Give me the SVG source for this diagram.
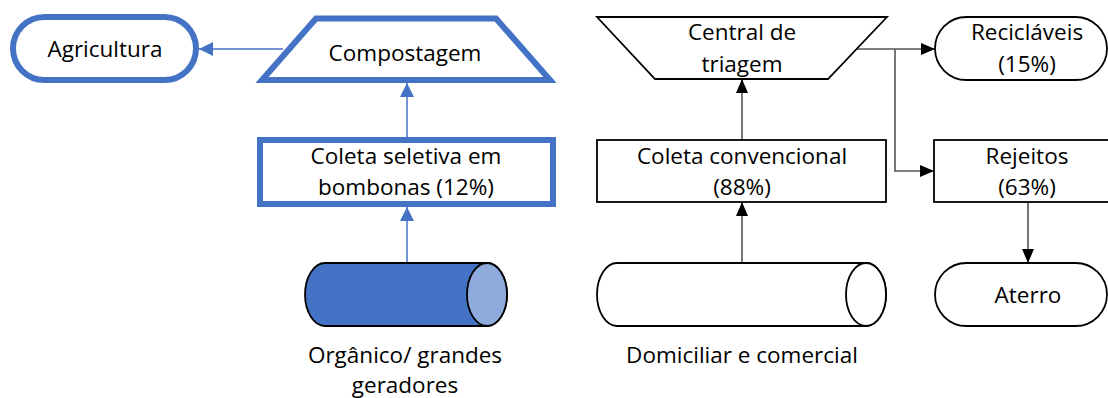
<svg xmlns="http://www.w3.org/2000/svg" width="1108" height="398" viewBox="0 0 1108 398">
<style>
text{font-family:"Open Sans","Noto Sans","Liberation Sans",sans-serif;font-size:22.5px;fill:#000;text-anchor:middle}
.bl{fill:#fff;stroke:#4472C4;stroke-width:6;stroke-linejoin:miter}
.bk{fill:#fff;stroke:#000;stroke-width:1.8}
.cb{stroke:#4472C4;stroke-width:1.5;fill:none}
.ck{stroke:#555;stroke-width:1.6;fill:none}
</style>
<defs>
<marker id="ab" viewBox="0 0 14 14" refX="14" refY="7" markerWidth="14" markerHeight="14" orient="auto" markerUnits="userSpaceOnUse"><path d="M0,0 L14,7 L0,14 z" fill="#4472C4"/></marker>
<marker id="ak" viewBox="0 0 14 14" refX="14" refY="7" markerWidth="14" markerHeight="14" orient="auto" markerUnits="userSpaceOnUse"><path d="M0,1 L14,7 L0,13 z" fill="#000"/></marker>
</defs>
<g id="connectors">
<path class="cb" d="M283,49 L199,49" marker-end="url(#ab)"/>
<path class="cb" d="M407,137 L407,83" marker-end="url(#ab)"/>
<path class="cb" d="M407,263 L407,207" marker-end="url(#ab)"/>
<path class="ck" d="M857,49 L935,49" marker-end="url(#ak)"/>
<path class="ck" d="M895,49 L895,171 L934,171" marker-end="url(#ak)"/>
<path class="ck" d="M1028,202 L1028,263" marker-end="url(#ak)"/>
<path class="ck" d="M742,140 L742,79" marker-end="url(#ak)"/>
<path class="ck" d="M742,263 L742,202" marker-end="url(#ak)"/>
</g>
<g id="agricultura">
<rect class="bl" x="13" y="17" width="183" height="63" rx="31.5" stroke-width="5.5"/>
<text x="105" y="57">Agricultura</text>
</g>
<g id="compostagem">
<polygon class="bl" points="316,18.5 496,18.5 550,80 262,80"/>
<text x="405" y="61">Compostagem</text>
</g>
<g id="coleta-seletiva">
<rect class="bl" x="260" y="140" width="293" height="64"/>
<text x="406" y="164">Coleta seletiva em</text>
<text x="406" y="195">bombonas (12%)</text>
</g>
<g id="organico">
<path d="M325,263 L487,263 A20,31.5 0 0 1 487,326 L325,326 A20,31.5 0 0 1 325,263 Z" fill="#4472C4" stroke="#000" stroke-width="1.8"/>
<ellipse cx="487" cy="294.5" rx="20" ry="31.5" fill="#8FAADC" stroke="#000" stroke-width="1.8"/>
<text x="405" y="363">Orgânico/ grandes</text>
<text x="405" y="393">geradores</text>
</g>
<g id="central-triagem">
<polygon class="bk" points="597,17 887,17 828,79 655,79"/>
<text x="742" y="40">Central de</text>
<text x="742" y="72">triagem</text>
</g>
<g id="coleta-convencional">
<rect class="bk" x="597" y="140" width="289" height="62"/>
<text x="742" y="164">Coleta convencional</text>
<text x="742" y="195">(88%)</text>
</g>
<g id="domiciliar">
<path class="bk" d="M617,263 L866,263 A20,31.5 0 0 1 866,326 L617,326 A20,31.5 0 0 1 617,263 Z"/>
<ellipse class="bk" cx="866" cy="294.5" rx="20" ry="31.5"/>
<text x="742" y="363">Domiciliar e comercial</text>
</g>
<g id="reciclaveis">
<rect class="bk" x="935" y="17" width="172" height="63" rx="31.5"/>
<text x="1027" y="40">Recicláveis</text>
<text x="1027" y="72">(15%)</text>
</g>
<g id="rejeitos">
<rect class="bk" x="934" y="140" width="180" height="62"/>
<text x="1027" y="164">Rejeitos</text>
<text x="1027" y="195">(63%)</text>
</g>
<g id="aterro">
<rect class="bk" x="935" y="263" width="172" height="63" rx="31.5"/>
<text x="1028" y="303">Aterro</text>
</g>
</svg>
